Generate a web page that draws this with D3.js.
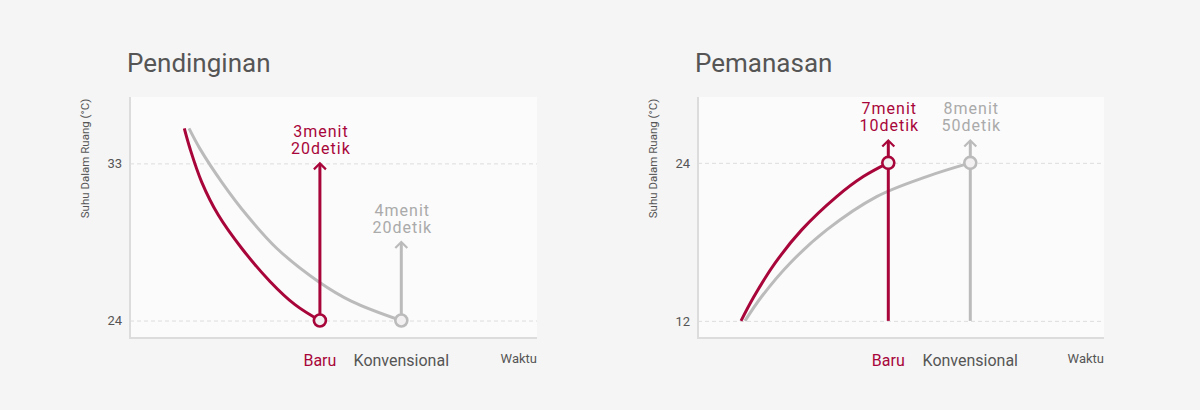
<!DOCTYPE html>
<html>
<head>
<meta charset="utf-8">
<script src="https://cdn.jsdelivr.net/npm/d3@7"></script>
<style>
  body { margin: 0; background: #f5f5f5; }
  svg { display: block; font-family: Roboto, "Noto Sans", sans-serif; }
</style>
</head>
<body>
<svg id="chart" width="1200" height="410"></svg>
<script>
// series names under the x axis
var series_names = ["Baru", "Konvensional"];

// cooling (Pendinginan): [minutes, degC]
var cool_ticks = [24, 33];
var cool_baru = [[1.667, 35.0], [1.737, 33.85], [1.881, 31.93], [2.085, 30.04], [2.372, 28.14], [2.72, 26.24], [3.027, 24.91], [3.333, 24]];
var cool_konv = [[1.725, 35.0], [1.86, 33.83], [2.127, 31.93], [2.434, 30.04], [2.802, 28.14], [3.313, 26.24], [3.724, 25.1], [4.333, 24]];
var cool_labels = [["3menit", "20detik"], ["4menit", "20detik"]];
var cool_arrow_top = [33, 28.5]; // where the arrows end

// heating (Pemanasan)
var heat_ticks = [12, 24];
var heat_baru = [[4.174, 12], [4.438, 13.85], [4.865, 16.38], [5.407, 18.91], [6.118, 21.44], [6.659, 22.96], [7.167, 24]];
var heat_konv = [[4.255, 12], [4.594, 13.85], [5.17, 16.38], [5.915, 18.91], [6.931, 21.44], [7.947, 22.96], [8.833, 24]];
var heat_labels = [["7menit", "10detik"], ["8menit", "50detik"]];
var heat_arrow_top = [25.7, 25.7];

var RED = "#a8063a", GREY = "#bbbbbb", TEXT = "#555555";
var svg = d3.select("#chart");

function draw_panel(p) {
    var g = svg.append("g");
    var x = d3.scaleLinear().domain(p.x_domain).range([p.left, p.right]);
    var y = d3.scaleLinear().domain(p.y_domain).range([p.bottom, p.top]);

    g.append("text") // panel title
        .attr("x", p.left - 3).attr("y", 72)
        .style("font-size", "26px").style("fill", TEXT)
        .text(p.title);

    g.append("rect") // plot background
        .attr("x", p.left).attr("y", p.top)
        .attr("width", p.right - p.left).attr("height", p.bottom - p.top)
        .attr("fill", "#fbfbfb");

    var ax = g.append("g") // y ticks + dashed grid
        .attr("transform", "translate(" + p.left + ",0)")
        .call(d3.axisLeft(y).tickValues(p.ticks).tickSizeInner(-(p.right - p.left)).tickSizeOuter(0).tickPadding(8));
    ax.select(".domain").remove();
    ax.selectAll(".tick line").attr("stroke", "#dddddd").attr("stroke-dasharray", "4,3");
    ax.selectAll(".tick text").style("font-size", "13px").style("fill", TEXT).style("font-family", "Roboto");

    // axis lines
    g.append("line").attr("x1", p.left).attr("x2", p.left).attr("y1", p.top).attr("y2", p.bottom + 1)
        .attr("stroke", "#dcdcdc").attr("stroke-width", 2);
    g.append("line").attr("x1", p.left).attr("x2", p.right).attr("y1", p.bottom).attr("y2", p.bottom)
        .attr("stroke", "#dcdcdc").attr("stroke-width", 2);

    g.append("text") // y axis title
        .attr("transform", "translate(" + (p.left - 41) + "," + ((p.top + 220) / 2) + ")rotate(-90)")
        .attr("text-anchor", "middle")
        .style("font-size", "11.5px").style("fill", TEXT)
        .text("Suhu Dalam Ruang (°C)");

    g.append("text")
        .attr("x", p.right).attr("y", p.bottom + 25)
        .attr("text-anchor", "end")
        .style("font-size", "13px").style("fill", TEXT)
        .text("Waktu");

    var line = d3.line()
        .x(function (d) { return x(d[0]); })
        .y(function (d) { return y(d[1]); })
        .curve(d3.curveCatmullRom.alpha(0.5));

    var colors = [RED, GREY];
    var series = [p.baru, p.konv];

    // grey first so red sits on top
    [1, 0].forEach(function (i) {
        g.append("path").attr("d", line(series[i]))
            .attr("fill", "none").attr("stroke", colors[i]).attr("stroke-width", 3);
    });

    [1, 0].forEach(function (i) {
        var last = series[i][series[i].length - 1];
        var cx = x(last[0]);
        var tip = y(p.arrow_top[i]);
        var base = p.stem_from == null ? y(last[1]) : y(p.stem_from);

        g.append("line").attr("x1", cx).attr("x2", cx).attr("y1", base).attr("y2", tip + 1)
            .attr("stroke", colors[i]).attr("stroke-width", 3);
        g.append("path")
            .attr("d", "M" + (cx - 6) + "," + (tip + 6) + "L" + cx + "," + tip + "L" + (cx + 6) + "," + (tip + 6))
            .attr("fill", "none").attr("stroke", colors[i]).attr("stroke-width", 2.2);
        g.append("circle").attr("cx", cx).attr("cy", y(last[1])).attr("r", 6)
            .attr("fill", "#f2f0f1").attr("stroke", colors[i]).attr("stroke-width", 2.6);

        var lbl = g.append("text")
            .attr("text-anchor", "middle")
            .style("font-size", "16px").style("letter-spacing", "1px")
            .style("fill", i == 0 ? RED : "#aaaaaa");
        p.labels[i].forEach(function (s, k) {
            lbl.append("tspan").attr("x", cx + 1).attr("y", tip - 26 + k * 17).text(s);
        });

        g.append("text")
            .attr("x", cx).attr("y", p.bottom + 28)
            .attr("text-anchor", "middle")
            .style("font-size", "16px").style("fill", i == 0 ? RED : TEXT)
            .text(series_names[i]);
    });
}

draw_panel({
    title: "Pendinginan", left: 130, right: 537, top: 97, bottom: 338,
    x_domain: [1, 6], y_domain: [23, 36.8], ticks: cool_ticks,
    baru: cool_baru, konv: cool_konv, labels: cool_labels, arrow_top: cool_arrow_top, stem_from: null
});
draw_panel({
    title: "Pemanasan", left: 698, right: 1104, top: 97, bottom: 338,
    x_domain: [3.3, 11.55], y_domain: [10.7, 29], ticks: heat_ticks,
    baru: heat_baru, konv: heat_konv, labels: heat_labels, arrow_top: heat_arrow_top, stem_from: 12
});
</script>
</body>
</html>
